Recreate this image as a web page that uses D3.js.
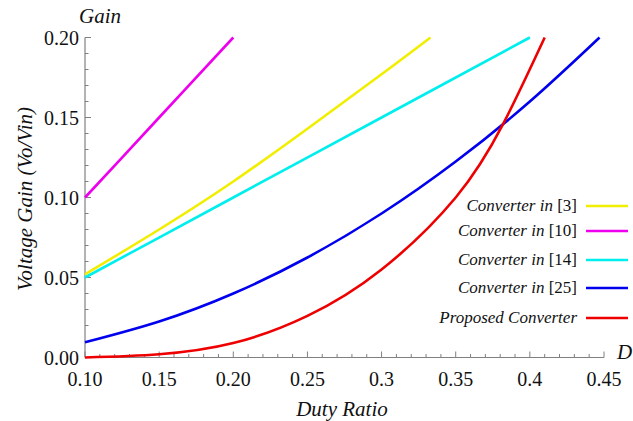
<!DOCTYPE html>
<meta charset="utf-8">
<head>
    <title></title>
    <script src="https://cdn.jsdelivr.net/npm/d3@7/dist/d3.min.js"></script>
</head>
<style>
    body{ margin:0; background:#fff; }
    svg text{ fill:#111; }
</style>
<svg width="633" height="421"></svg>
<script>
    // duty ratio / gain points
    var dutyC3 = [0.1, 0.15, 0.2, 0.25, 0.3, 0.333],
        gainC3 = [0.052, 0.080, 0.110, 0.143, 0.177, 0.2];
    var dutyC10 = [0.1, 0.15, 0.2],
        gainC10 = [0.1, 0.15, 0.2];
    var dutyC14 = [0.1, 0.2, 0.3, 0.4],
        gainC14 = [0.05, 0.1, 0.15, 0.2];
    var dutyC25 = [0.1, 0.15, 0.2, 0.25, 0.3, 0.35, 0.4, 0.447],
        gainC25 = [0.0095, 0.0225, 0.04, 0.0625, 0.09, 0.1225, 0.16, 0.2];
    var dutyProp = [0.1, 0.15, 0.2, 0.25, 0.3, 0.35, 0.382, 0.41],
        gainProp = [0, 0.002, 0.009, 0.026, 0.055, 0.1, 0.146, 0.2];

    var xTicks = [0.10, 0.15, 0.20, 0.25, 0.3, 0.35, 0.4, 0.45],
        xTickLabels = ['0.10','0.15','0.20','0.25','0.3','0.35','0.4','0.45'],
        yTicks = [0, 0.05, 0.1, 0.15, 0.2],
        yTickLabels = ['0.00','0.05','0.10','0.15','0.20'];

    var series = [
        {name:'[3]',  prefix:'Converter in ', duty:dutyC3,   gain:gainC3,   color:'#f2ee00'},
        {name:'[10]', prefix:'Converter in ', duty:dutyC10,  gain:gainC10,  color:'#ee00ee'},
        {name:'[14]', prefix:'Converter in ', duty:dutyC14,  gain:gainC14,  color:'#00eeee'},
        {name:'[25]', prefix:'Converter in ', duty:dutyC25,  gain:gainC25,  color:'#0000ee'},
        {name:'',     prefix:'Proposed Converter', duty:dutyProp, gain:gainProp, color:'#ee0000'}
    ];

    var font = "'Liberation Serif', LiberationSerif, 'Times New Roman', Times, Tinos, 'Nimbus Roman', FreeSerif, 'DejaVu Serif', 'Noto Serif', serif";
    var svg = d3.select('svg');
    var x = d3.scaleLinear().domain([0.1, 0.45]).range([85, 604]),
        y = d3.scaleLinear().domain([0, 0.2]).range([357.5, 37.5]);

    var axisColor = '#808080';

    // minor ticks every 0.01
    var xMinor = d3.range(0.10, 0.4501, 0.01),
        yMinor = d3.range(0, 0.2001, 0.01);

    var g = svg.append('g');

    function isMajor(d){ return Math.abs(Math.round(d*20) - d*20) < 1e-6; }

    g.selectAll('.xminor').data(xMinor).enter().append('line')
        .attr('x1', function(d){ return x(d); }).attr('x2', function(d){ return x(d); })
        .attr('y1', y(0)).attr('y2', function(d){ return y(0) - (isMajor(d) ? 6 : 3.5); })
        .style('stroke', axisColor).style('stroke-width', 1);

    g.selectAll('.yminor').data(yMinor).enter().append('line')
        .attr('y1', function(d){ return y(d); }).attr('y2', function(d){ return y(d); })
        .attr('x1', x(0.1)).attr('x2', function(d){ return x(0.1) + (isMajor(d) ? 6 : 3.5); })
        .style('stroke', axisColor).style('stroke-width', 1);

    g.append('line').attr('x1', x(0.1)).attr('x2', x(0.45)).attr('y1', y(0)).attr('y2', y(0))
        .style('stroke', axisColor).style('stroke-width', 1.2);
    g.append('line').attr('x1', x(0.1)).attr('x2', x(0.1)).attr('y1', y(0)).attr('y2', y(0.2))
        .style('stroke', axisColor).style('stroke-width', 1.2);

    g.selectAll('.xlab').data(xTicks).enter().append('text')
        .attr('x', function(d){ return x(d); })
        .attr('y', 386)
        .attr('text-anchor', 'middle')
        .style('font-family', font).style('font-size', '20px')
        .text(function(d,i){ return xTickLabels[i]; });

    g.selectAll('.ylab').data(yTicks).enter().append('text')
        .attr('x', 79)
        .attr('y', function(d){ return y(d) + 7; })
        .attr('text-anchor', 'end')
        .style('font-family', font).style('font-size', '20px')
        .text(function(d,i){ return yTickLabels[i]; });

    // curves
    var line = d3.line()
        .x(function(d){ return x(d[0]); })
        .y(function(d){ return y(d[1]); })
        .curve(d3.curveNatural);

    series.forEach(function(s){
        var pts = s.duty.map(function(d,i){ return [d, s.gain[i]]; });
        svg.append('path').datum(pts)
            .attr('d', line)
            .style('fill', 'none')
            .style('stroke', s.color)
            .style('stroke-width', 2.6);
    });

    // legend
    var legendY = [206, 231, 260, 288, 318];
    series.forEach(function(s, i){
        var t = svg.append('text')
            .attr('x', 577).attr('y', legendY[i] + 5)
            .attr('text-anchor', 'end')
            .style('font-family', font).style('font-size', '17px');
        t.append('tspan').style('font-style', 'italic').text(s.prefix);
        if(s.name) t.append('tspan').text(s.name);
        svg.append('line')
            .attr('x1', 586).attr('x2', 628)
            .attr('y1', legendY[i]).attr('y2', legendY[i])
            .style('stroke', s.color).style('stroke-width', 2.6);
    });

    // axis titles
    function title(txt){
        return svg.append('text').style('font-family', font)
            .style('font-size', '21px').style('font-style', 'italic').text(txt);
    }
    title('Gain').attr('x', 100).attr('y', 23).attr('text-anchor', 'middle');
    title('D').attr('x', 617).attr('y', 359);
    title('Duty Ratio').attr('x', 342).attr('y', 416).attr('text-anchor', 'middle');
    title('Voltage Gain (Vo/Vin)')
        .attr('transform', 'translate(32,199) rotate(-90)')
        .attr('text-anchor', 'middle');
</script>
